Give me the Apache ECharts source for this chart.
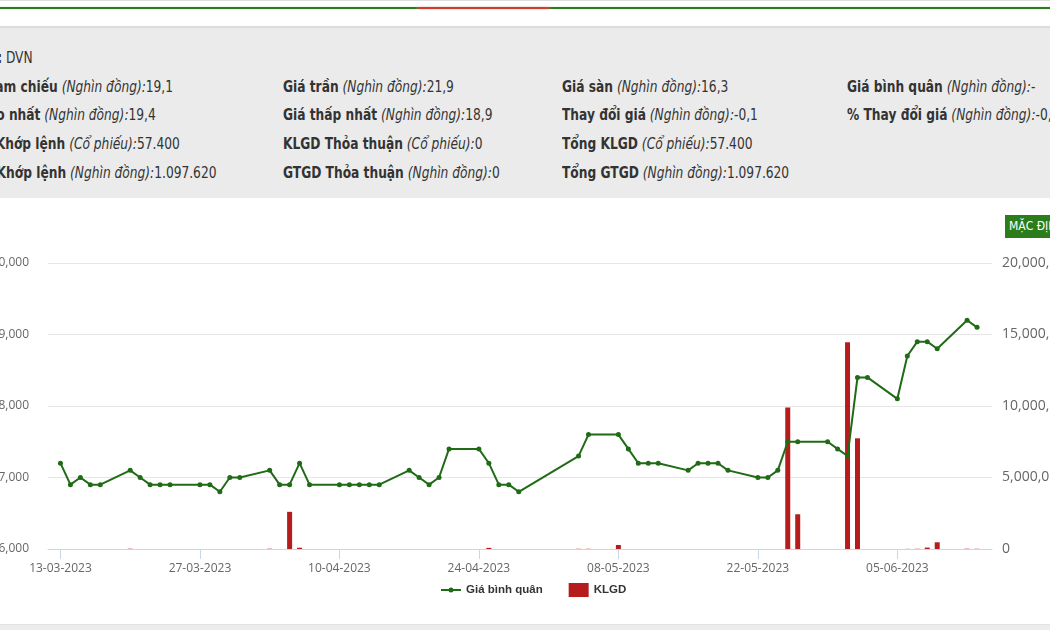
<!DOCTYPE html>
<html>
<head>
<meta charset="utf-8">
<script src="https://cdn.jsdelivr.net/npm/echarts@6/dist/echarts.min.js"></script>
<style>
  body { margin: 0; width: 1050px; height: 630px; overflow: hidden; background: #fff; position: relative;
         font-family: "DejaVu Sans Condensed", "DejaVu Sans", sans-serif; color: #333; }
  .abs { position: absolute; }
  #line0 { left: 0; top: 0; width: 1050px; height: 1px; background: #dedede; }
  #green { left: 0; top: 7px; width: 1050px; height: 2px; background: #2b7a1d; box-shadow: 0 0 2px #b8f0b0; }
  #red { left: 418px; top: 7px; width: 131px; height: 2px; background: #d23a3a; box-shadow: 0 0 2px #f6b8b8; }
  #sep { left: 0; top: 26px; width: 1050px; height: 2px; background: #dcdcdc; }
  #panel { left: 0; top: 28px; width: 1050px; height: 170px; background: #ebebeb; }
  .col { position: absolute; top: 44px; font-size: 16px; line-height: 28.7px; white-space: nowrap;
         transform: scaleX(0.85); transform-origin: 0 0; }
  .col b { font-weight: bold; }
  .col i { font-style: italic; }
  #chart-dvn { position: absolute; left: 0; top: 198px; width: 1050px; height: 426px; }
  #btn { left: 1005px; top: 215px; width: 60px; height: 23px; background: #2a7d1a; color: #fff;
         font-size: 12px; line-height: 23px; padding-left: 4px; box-sizing: border-box; white-space: nowrap; }
  #bottom { left: 0; top: 624px; width: 1050px; height: 6px; background: #ececec; border-top: 1px solid #e2e2e2; }
</style>
</head>
<body>
<div class="abs" id="line0"></div>
<div class="abs" id="green"></div>
<div class="abs" id="red"></div>
<div class="abs" id="sep"></div>
<div class="abs" id="panel"></div>

<div class="col" style="left:-46px">
  <div><b>Mã CK:</b> DVN</div>
  <div><b>Giá tham chiếu</b> <i>(Nghìn đồng):</i>19,1</div>
  <div><b>Giá cao nhất</b> <i>(Nghìn đồng):</i>19,4</div>
  <div><b>KLGD Khớp lệnh</b> <i>(Cổ phiếu):</i>57.400</div>
  <div><b>GTGD Khớp lệnh</b> <i>(Nghìn đồng):</i>1.097.620</div>
</div>
<div class="col" style="left:283px">
  <div>&nbsp;</div>
  <div><b>Giá trần</b> <i>(Nghìn đồng):</i>21,9</div>
  <div><b>Giá thấp nhất</b> <i>(Nghìn đồng):</i>18,9</div>
  <div><b>KLGD Thỏa thuận</b> <i>(Cổ phiếu):</i>0</div>
  <div><b>GTGD Thỏa thuận</b> <i>(Nghìn đồng):</i>0</div>
</div>
<div class="col" style="left:562px">
  <div>&nbsp;</div>
  <div><b>Giá sàn</b> <i>(Nghìn đồng):</i>16,3</div>
  <div><b>Thay đổi giá</b> <i>(Nghìn đồng):</i>-0,1</div>
  <div><b>Tổng KLGD</b> <i>(Cổ phiếu):</i>57.400</div>
  <div><b>Tổng GTGD</b> <i>(Nghìn đồng):</i>1.097.620</div>
</div>
<div class="col" style="left:847px">
  <div>&nbsp;</div>
  <div><b>Giá bình quân</b> <i>(Nghìn đồng):</i>-</div>
  <div><b>% Thay đổi giá</b> <i>(Nghìn đồng):</i>-0,52</div>
</div>

<div id="chart-dvn"></div>
<div class="abs" id="btn">MẶC ĐỊNH</div>
<div class="abs" id="bottom"></div>

<script>
// trading days shown on the chart
const dates = [
  "13-03-2023", "14-03-2023", "15-03-2023", "16-03-2023", "17-03-2023",
  "20-03-2023", "21-03-2023", "22-03-2023", "23-03-2023", "24-03-2023",
  "27-03-2023", "28-03-2023", "29-03-2023", "30-03-2023", "31-03-2023",
  "03-04-2023", "04-04-2023", "05-04-2023", "06-04-2023", "07-04-2023",
  "10-04-2023", "11-04-2023", "12-04-2023", "13-04-2023", "14-04-2023",
  "17-04-2023", "18-04-2023", "19-04-2023", "20-04-2023", "21-04-2023",
  "24-04-2023", "25-04-2023", "26-04-2023", "27-04-2023", "28-04-2023",
  "04-05-2023", "05-05-2023",
  "08-05-2023", "09-05-2023", "10-05-2023", "11-05-2023", "12-05-2023",
  "15-05-2023", "16-05-2023", "17-05-2023", "18-05-2023", "19-05-2023",
  "22-05-2023", "23-05-2023", "24-05-2023", "25-05-2023", "26-05-2023",
  "29-05-2023", "30-05-2023", "31-05-2023", "01-06-2023", "02-06-2023",
  "05-06-2023", "06-06-2023", "07-06-2023", "08-06-2023", "09-06-2023",
  "12-06-2023", "13-06-2023"
];

// Giá bình quân (đồng)
const prices = [
  17200, 16900, 17000, 16900, 16900,
  17100, 17000, 16900, 16900, 16900,
  16900, 16900, 16800, 17000, 17000,
  17100, 16900, 16900, 17200, 16900,
  16900, 16900, 16900, 16900, 16900,
  17100, 17000, 16900, 17000, 17400,
  17400, 17200, 16900, 16900, 16800,
  17300, 17600,
  17600, 17400, 17200, 17200, 17200,
  17100, 17200, 17200, 17200, 17100,
  17000, 17000, 17100, 17500, 17500,
  17500, 17400, 17300, 18400, 18400,
  18100, 18700, 18900, 18900, 18800,
  19200, 19100
];

// KLGD (cổ phiếu)
const volumes = [
  0, 0, 0, 0, 0,
  20000, 0, 0, 0, 0,
  0, 0, 0, 0, 0,
  20000, 0, 2600000, 90000, 0,
  0, 0, 0, 0, 0,
  0, 0, 0, 0, 0,
  0, 80000, 0, 0, 0,
  15000, 15000,
  280000, 0, 0, 0, 0,
  0, 0, 0, 0, 0,
  0, 0, 0, 9900000, 2430000,
  0, 0, 14450000, 7740000, 0,
  0, 10000, 15000, 100000, 470000,
  20000, 15000
];

const tickDates = ["13-03-2023", "27-03-2023", "10-04-2023", "24-04-2023", "08-05-2023", "22-05-2023", "05-06-2023"];

const BASE = Date.UTC(2023, 2, 13);
function toDay(s) {
  const p = s.split("-").map(Number);
  return (Date.UTC(p[2], p[1] - 1, p[0]) - BASE) / 86400000;
}
function dayLabel(v) {
  const d = new Date(BASE + Math.round(v) * 86400000);
  const pad = (n) => (n < 10 ? "0" : "") + n;
  return pad(d.getUTCDate()) + "-" + pad(d.getUTCMonth() + 1) + "-" + d.getUTCFullYear();
}
function commas(v) {
  return String(v).replace(/\B(?=(\d{3})+(?!\d))/g, ",");
}

function drawChart() {
  var myChart = echarts.init(document.getElementById("chart-dvn"));
  const days = dates.map(toDay);
  const tickDays = tickDates.map(toDay);
  const axisFont = "'Open Sans', 'DejaVu Sans', sans-serif";

  var option = {
    animation: false,
    grid: {
      left: 48,
      right: 58,
      top: 65,
      bottom: 75,
      outerBoundsMode: "none",
    },
    legend: {
      left: 436,
      top: 380,
      itemWidth: 20,
      itemHeight: 14,
      itemGap: 26,
      textStyle: {
        fontFamily: "'Liberation Sans', sans-serif",
        fontWeight: "bold",
        fontSize: 11.5,
        color: "#333",
      },
      data: [
        {
          name: "Giá bình quân",
          icon: "path://M0,6H20V8H0Z M12.5,7A2.5,2.5,0,1,1,7.5,7A2.5,2.5,0,1,1,12.5,7Z",
        },
        { name: "KLGD", icon: "rect" },
      ],
    },
    xAxis: {
      type: "value",
      min: -1.25,
      max: 93.5,
      axisLine: {
        onZero: false,
        lineStyle: { color: "#ccd6eb" },
      },
      axisTick: {
        customValues: tickDays,
        length: 10,
        lineStyle: { color: "#ccd6eb" },
      },
      axisLabel: {
        customValues: tickDays,
        formatter: dayLabel,
        margin: 14,
        color: "#666",
        fontFamily: axisFont,
        fontSize: 12,
      },
      splitLine: { show: false },
    },
    yAxis: [
      {
        type: "value",
        min: 16000,
        max: 20000,
        interval: 1000,
        axisLine: { show: false },
        axisTick: { show: false },
        axisLabel: {
          formatter: commas,
          margin: 19,
          color: "#666",
          fontFamily: axisFont,
          fontSize: 12,
        },
        splitLine: {
          lineStyle: { color: "#e6e6e6" },
        },
      },
      {
        type: "value",
        min: 0,
        max: 20000000,
        interval: 5000000,
        position: "right",
        axisLine: { show: false },
        axisTick: { show: false },
        axisLabel: {
          formatter: commas,
          margin: 10,
          color: "#666",
          fontFamily: axisFont,
          fontSize: 14,
        },
        splitLine: { show: false },
      },
    ],
    series: [
      {
        name: "KLGD",
        type: "bar",
        yAxisIndex: 1,
        barWidth: 5,
        color: "#b71c1c",
        data: days.map((d, i) => [d, volumes[i]]),
      },
      {
        name: "Giá bình quân",
        type: "line",
        symbol: "circle",
        symbolSize: 5,
        color: "#1f6b16",
        lineStyle: { width: 2 },
        data: days.map((d, i) => [d, prices[i]]),
      },
    ],
  };

  myChart.setOption(option);
}

window.onload = function () {
  drawChart();
};
</script>
</body>
</html>
